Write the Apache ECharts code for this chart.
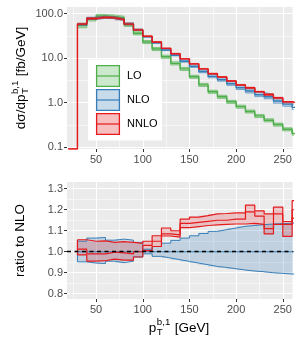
<!DOCTYPE html>
<html><head><meta charset="utf-8">
<script src="https://cdn.jsdelivr.net/npm/echarts@6/dist/echarts.min.js"></script>
<style>html,body{margin:0;padding:0;background:#fff}#c{width:300px;height:350px}</style>
</head><body><div id="c"></div>
<script>
// ---- data ----
// bin left edges (last entry = overflow bin 260-270, only its jump at 260 is visible)
const xNNLO = [20,30,40,50,60,70,80,90,100,110,120,130,140,150,160,170,180,190,200,210,220,230,240,250,260];
const xBins = [30,40,50,60,70,80,90,100,110,120,130,140,150,160,170,180,190,200,210,220,230,240,250,260];

const LO_c  = [54,74,89,86,81,56,36,23,16,10.7,7.6,5.7,3.8,2.5,1.75,1.35,1.04,0.81,0.63,0.50,0.40,0.32,0.25,0.2];
const LO_lo = [48,68.1,81.9,79.1,74.5,51.5,33.1,21.2,14.7,9.84,6.99,5.24,3.50,2.30,1.61,1.24,0.957,0.745,0.58,0.46,0.368,0.294,0.23,0.184];
const LO_hi = [60,79.9,96.1,92.9,87.5,60.5,38.9,24.8,17.3,11.6,8.21,6.16,4.10,2.70,1.89,1.46,1.12,0.875,0.68,0.54,0.432,0.346,0.27,0.216];

const NLO_c  = [57.3,77.8,82.8,80.2,73.4,58.6,43.0,30.1,21.9,15.2,11.6,8.46,6.49,4.98,3.87,3.26,2.64,2.15,1.81,1.50,1.35,1.08,0.92,0.78];
const NLO_lo = [54.5,73.6,78.2,76.6,69.6,56.0,41.9,29.8,21.4,14.7,11.2,8.07,6.14,4.67,3.60,3.02,2.43,1.96,1.64,1.36,1.215,0.969,0.822,0.70];
const NLO_hi = [60.2,82.9,88.4,84.6,77.8,61.8,44.9,30.5,22.4,15.8,12.2,9.01,6.98,5.41,4.25,3.60,2.94,2.41,2.04,1.69,1.53,1.22,1.045,0.89];

const NNLO_c  = [0.0905,58,77,82,80,73,58,43,31,23,16.5,12.5,9.6,7.4,5.7,4.45,3.75,3.05,2.48,2.15,1.76,1.50,1.28,1.04,0.94];
const NNLO_lo = [0.0905,56.4,74.3,79.3,77.4,70.5,56.3,41.9,30.3,22.4,16.3,12.4,9.43,7.27,5.60,4.37,3.68,2.99,2.43,2.05,1.70,1.46,1.22,0.987,0.905];
const NNLO_hi = [0.0905,60.6,81.7,87.1,83.8,76.9,61.2,44.7,31.6,23.6,16.9,12.8,9.77,7.56,5.84,4.57,3.85,3.13,2.55,2.21,1.79,1.59,1.31,1.05,0.97];

const R_NLO_lo = [0.952,0.946,0.944,0.955,0.948,0.955,0.975,0.99,0.978,0.97,0.962,0.954,0.946,0.938,0.93,0.925,0.919,0.913,0.908,0.905,0.9,0.897,0.894,0.892];
const R_NLO_c  = [1,1,1,1,1,1,1,1,1,1,1,1,1,1,1,1,1,1,1,1,1,1,1,1];
const R_NLO_hi = [1.05,1.065,1.068,1.055,1.06,1.055,1.045,1.012,1.025,1.041,1.054,1.065,1.076,1.087,1.097,1.105,1.113,1.121,1.125,1.129,1.132,1.134,1.136,1.138];
const R_NNLO_lo = [0.985,0.955,0.958,0.965,0.96,0.96,0.975,1.005,1.025,1.075,1.07,1.115,1.12,1.125,1.128,1.13,1.132,1.132,1.135,1.13,1.085,1.13,1.073,1.16];
const R_NNLO_c  = [1.012,0.99,0.99,0.998,0.995,0.99,1.0,1.03,1.05,1.085,1.08,1.135,1.14,1.145,1.15,1.15,1.155,1.155,1.19,1.17,1.11,1.18,1.13,1.2];
const R_NNLO_hi = [1.057,1.05,1.052,1.045,1.048,1.045,1.04,1.05,1.076,1.113,1.10,1.155,1.165,1.172,1.18,1.182,1.185,1.185,1.222,1.195,1.18,1.212,1.144,1.243];

const xTicks = [50,100,150,200,250];
const xMinor = [25,75,125,175,225];
const yTopTicks = [0.1,1,10,100];
const yTopMinor = [0.316,3.16,31.6];
const yRatTicks = [0.8,0.9,1.0,1.1,1.2,1.3];
const yRatMinor = [0.85,0.95,1.05,1.15,1.25];
const legendNames = ['LO','NLO','NNLO'];
const COL = {LO:'#4daf4a', NLO:'#377eb8', NNLO:'#e41a1c'};

// ---- helpers ----
function rgba(hex,a){const n=parseInt(hex.slice(1),16);return `rgba(${n>>16},${(n>>8)&255},${n&255},${a})`;}
function stepPts(xs, ys){const d=xs.map((x,i)=>[x,ys[i]]);d.push([xs[xs.length-1]+10, ys[ys.length-1]]);return d;}
const FONT='"Liberation Sans", Arial, sans-serif';
const X0=18.8, X1=260.5;

function bandFill(xs, lo, hi, color, fa, xi, yi){
  const data=xs.map((x,i)=>[x, lo[i], hi[i]]);
  return {type:'custom', xAxisIndex:xi, yAxisIndex:yi, silent:true, animation:false, data:data,
    encode:{x:0, y:[1,2]},
    renderItem:(params, api)=>{
      if(params.dataIndex!==0) return null;
      const up=[], dn=[];
      for(let i=0;i<data.length;i++){
        const a=Math.max(data[i][0],X0), b=Math.min(data[i][0]+10,X1);
        if(b<=a) continue;
        up.push(api.coord([a,data[i][2]]), api.coord([b,data[i][2]]));
        dn.push(api.coord([a,data[i][1]]), api.coord([b,data[i][1]]));
      }
      return {type:'polygon', shape:{points:up.concat(dn.reverse())}, style:{fill:rgba(color,fa)}};
    }};
}
function line(xs, ys, color, w, xi, yi){
  return {type:'line', xAxisIndex:xi, yAxisIndex:yi, step:'end', symbol:'none', silent:true, animation:false,
    data:stepPts(xs, ys), lineStyle:{color:color, width:w}};
}
function seg(pts, color, w, xi, yi){
  return {type:'line', xAxisIndex:xi, yAxisIndex:yi, symbol:'none', silent:true, animation:false,
    data:pts, lineStyle:{color:color, width:w}};
}

function xMain(gi){return {type:'value', gridIndex:gi, min:X0, max:X1,
  axisLine:{show:false},
  axisTick:{show:true, length:3, customValues:xTicks, lineStyle:{color:'#333', width:1}},
  axisLabel:{show:true, customValues:xTicks, fontSize:11, color:'#4d4d4d', margin:5, fontFamily:FONT},
  splitLine:{show:true, lineStyle:{color:'#fff', width:1.1}}};}
function xMin(gi){return {type:'value', gridIndex:gi, min:X0, max:X1, position:'top',
  axisLine:{show:false}, axisTick:{show:false, customValues:xMinor}, axisLabel:{show:false, customValues:xMinor},
  splitLine:{show:true, lineStyle:{color:'#fff', width:0.55}}};}

// ---- text measurement for axis titles ----
const cv=document.createElement('canvas').getContext('2d');
function tw(s,f){cv.font=f+'px '+FONT;return cv.measureText(s).width;}
function mathTitle(pre, sup, sub, post, F){
  const fs=F*0.72;
  const w1=tw(pre,F), ws=Math.max(tw(sup,fs),tw(sub,fs)), w2=tw(post,F);
  const W=w1+ws+w2+1;
  let x=-W/2; const ch=[];
  const st=(t,f)=>({text:t, fontSize:f, fontFamily:FONT, fill:'#000', verticalAlign:'middle', align:'left'});
  ch.push({type:'text', x:x, y:0, style:st(pre,F)});
  x+=w1+0.5;
  ch.push({type:'text', x:x, y:-0.45*F, style:st(sup,fs)});
  ch.push({type:'text', x:x, y:0.33*F, style:st(sub,fs)});
  x+=ws+0.5;
  ch.push({type:'text', x:x, y:0, style:st(post,F)});
  return ch;
}

// ---- legend graphic ----
const graphic=[];
graphic.push({type:'rect', shape:{x:88, y:59.5, width:74, height:81}, style:{fill:'#fff'}, z:100});
legendNames.forEach((n,i)=>{
  const y=65+24*i, c=COL[n];
  graphic.push({type:'rect', shape:{x:96.6, y:y+0.6, width:22.8, height:20.8}, style:{fill:rgba(c,0.28), stroke:c, lineWidth:1.3}, z:101});
  graphic.push({type:'line', shape:{x1:96.6, y1:y+11, x2:119.4, y2:y+11}, style:{stroke:c, lineWidth:1.2}, z:102});
  graphic.push({type:'text', x:127, y:y+11, style:{text:n, fontSize:11, fontFamily:FONT, fill:'#000', verticalAlign:'middle'}, z:102});
});
const F=13.5;
graphic.push({type:'group', x:21, y:78, rotation:Math.PI/2, children:mathTitle('d\u03c3/dp','b,1','T',' [fb/GeV]',F)});
graphic.push({type:'group', x:20, y:240.5, rotation:Math.PI/2, children:[{type:'text', x:0, y:0, style:{text:'ratio to NLO', fontSize:F, fontFamily:FONT, fill:'#000', align:'center', verticalAlign:'middle'}}]});
graphic.push({type:'group', x:179, y:328, children:mathTitle('p','b,1','T',' [GeV]',F)});

// ---- series ----
const series=[];
[['LO',xBins,LO_lo,LO_hi,LO_c],['NLO',xBins,NLO_lo,NLO_hi,NLO_c],['NNLO',xNNLO,NNLO_lo,NNLO_hi,NNLO_c]].forEach(([n,xs,lo,hi,c])=>{
  series.push(bandFill(xs, lo, hi, COL[n], 0.3, 0, 0));
  series.push(line(xs, lo, rgba(COL[n],0.6), 1.0, 0, 0));
  series.push(line(xs, hi, rgba(COL[n],0.6), 1.0, 0, 0));
  series.push(line(xs, c, COL[n], 1.4, 0, 0));
});
series.push(bandFill(xBins, R_NLO_lo, R_NLO_hi, COL.NLO, 0.23, 2, 2));
series.push(line(xBins, R_NLO_lo, COL.NLO, 1.0, 2, 2));
series.push(line(xBins, R_NLO_hi, COL.NLO, 1.0, 2, 2));
series.push(seg([[30,R_NLO_lo[0]],[30,R_NLO_hi[0]]], COL.NLO, 1.0, 2, 2));
series.push(line(xBins, R_NLO_c, COL.NLO, 1.1, 2, 2));
series.push(bandFill(xBins, R_NNLO_lo, R_NNLO_hi, COL.NNLO, 0.2, 2, 2));
series.push(line(xBins, R_NNLO_lo, COL.NNLO, 1.2, 2, 2));
series.push(line(xBins, R_NNLO_hi, COL.NNLO, 1.2, 2, 2));
series.push(seg([[30,R_NNLO_lo[0]],[30,R_NNLO_hi[0]]], COL.NNLO, 1.2, 2, 2));
series.push(line(xBins, R_NNLO_c, COL.NNLO, 1.2, 2, 2));
series.push({type:'line', xAxisIndex:2, yAxisIndex:2, data:[], symbol:'none', silent:true, animation:false,
  markLine:{silent:true, symbol:['none','none'], label:{show:false}, animation:false,
    lineStyle:{color:'#000', width:1.4, type:[4,3.5]}, data:[{yAxis:1}]}});

const option={
  animation:false,
  textStyle:{fontFamily:FONT},
  grid:[
    {left:67, top:7, width:225.6, height:142, show:true, backgroundColor:'#ebebeb', borderWidth:0},
    {left:67, top:182, width:225.6, height:117, show:true, backgroundColor:'#ebebeb', borderWidth:0}
  ],
  xAxis:[xMain(0), xMin(0), xMain(1), xMin(1)],
  yAxis:[
    {type:'log', logBase:10, gridIndex:0, min:0.0902, max:140.6,
      axisLine:{show:false},
      axisTick:{show:true, length:3, customValues:yTopTicks, lineStyle:{color:'#333', width:1}},
      axisLabel:{show:true, customValues:yTopTicks, fontSize:11, color:'#4d4d4d', margin:4, fontFamily:FONT, formatter:v=>Number(v).toFixed(1)},
      splitLine:{show:true, lineStyle:{color:'#fff', width:1.1}}},
    {type:'log', logBase:10, gridIndex:0, min:0.0902, max:140.6, position:'right',
      axisLine:{show:false}, axisTick:{show:false, customValues:yTopMinor}, axisLabel:{show:false, customValues:yTopMinor},
      splitLine:{show:true, lineStyle:{color:'#fff', width:0.55}}},
    {type:'value', gridIndex:1, min:0.775, max:1.332,
      axisLine:{show:false},
      axisTick:{show:true, length:3, customValues:yRatTicks, lineStyle:{color:'#333', width:1}},
      axisLabel:{show:true, customValues:yRatTicks, fontSize:11, color:'#4d4d4d', margin:4, fontFamily:FONT, formatter:v=>Number(v).toFixed(1)},
      splitLine:{show:true, lineStyle:{color:'#fff', width:1.1}}},
    {type:'value', gridIndex:1, min:0.775, max:1.332, position:'right',
      axisLine:{show:false}, axisTick:{show:false, customValues:yRatMinor}, axisLabel:{show:false, customValues:yRatMinor},
      splitLine:{show:true, lineStyle:{color:'#fff', width:0.55}}}
  ],
  series:series,
  graphic:graphic
};
const chart=echarts.init(document.getElementById('c'), null, {renderer:'canvas', width:300, height:350});
chart.setOption(option);
</script>
</body></html>
